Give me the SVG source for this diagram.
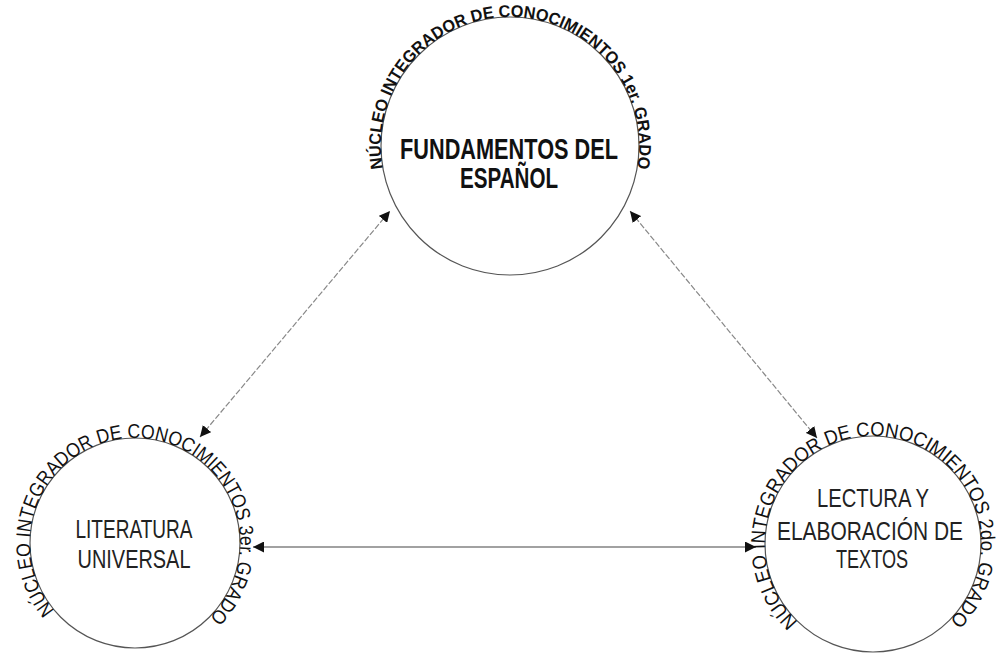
<svg xmlns="http://www.w3.org/2000/svg" width="1001" height="656" viewBox="0 0 1001 656">
<style>
.ring{fill:none;stroke:#555;stroke-width:1.2}
.arc{font-family:"Liberation Sans",Arial,sans-serif;fill:#111}
.arcTop{font-size:17px;font-weight:bold}
.arcBot{font-size:20px}
.lbl{font-family:"Liberation Sans",Arial,sans-serif;fill:#222;text-anchor:middle}
.lblTop{font-size:30px;font-weight:bold;fill:#111}
.lblBot{font-size:25px}
.diag{fill:none;stroke:#888;stroke-width:1.2;stroke-dasharray:6 2}
.horiz{fill:none;stroke:#444;stroke-width:1.2}
</style>
<defs>
<marker id="ah" viewBox="0 0 10 10" refX="10" refY="5" markerWidth="11" markerHeight="11" markerUnits="userSpaceOnUse" orient="auto-start-reverse">
<path d="M0,0 L10,5 L0,10 z" fill="#111"/>
</marker>
<path id="pTop" d="M382.96,168.4 A129,129 0 1 1 637.04,168.4"/>
<path id="pLeft" d="M54.57,610.49 A105,105 0 1 1 209.25,617.25"/>
<path id="pRight" d="M797.98,621.69 A108,108 0 1 1 949.37,620.37"/>
</defs>
<rect width="1001" height="656" fill="#fff"/>
<g id="connectors">
<path class="diag" d="M200,437 L390,211" marker-start="url(#ah)" marker-end="url(#ah)"/>
<path class="diag" d="M817,438 L630,211" marker-start="url(#ah)" marker-end="url(#ah)"/>
<path class="horiz" d="M253,547 L756,547" marker-start="url(#ah)" marker-end="url(#ah)"/>
</g>
<g id="node-fundamentos">
<circle class="ring" cx="510" cy="146" r="129"/>
<text class="arc arcTop"><textPath href="#pTop" textLength="450" lengthAdjust="spacingAndGlyphs">NÚCLEO INTEGRADOR DE CONOCIMIENTOS 1er. GRADO</textPath></text>
<text class="lbl lblTop" x="509" y="159" textLength="218" lengthAdjust="spacingAndGlyphs">FUNDAMENTOS DEL</text>
<text class="lbl lblTop" x="509" y="188" textLength="98" lengthAdjust="spacingAndGlyphs">ESPAÑOL</text>
</g>
<g id="node-literatura">
<circle class="ring" cx="135" cy="543" r="105"/>
<text class="arc arcBot"><textPath href="#pLeft" textLength="485" lengthAdjust="spacingAndGlyphs">NÚCLEO INTEGRADOR DE CONOCIMIENTOS 3er. GRADO</textPath></text>
<text class="lbl lblBot" x="134" y="538" textLength="117" lengthAdjust="spacingAndGlyphs">LITERATURA</text>
<text class="lbl lblBot" x="134" y="568" textLength="113" lengthAdjust="spacingAndGlyphs">UNIVERSAL</text>
</g>
<g id="node-lectura">
<circle class="ring" cx="873" cy="544" r="108"/>
<text class="arc arcBot"><textPath href="#pRight" textLength="510" lengthAdjust="spacingAndGlyphs">NÚCLEO INTEGRADOR DE CONOCIMIENTOS 2do. GRADO</textPath></text>
<text class="lbl lblBot" x="873" y="507" textLength="112" lengthAdjust="spacingAndGlyphs">LECTURA Y</text>
<text class="lbl lblBot" x="870" y="540" textLength="186" lengthAdjust="spacingAndGlyphs">ELABORACIÓN DE</text>
<text class="lbl lblBot" x="872" y="568" textLength="72" lengthAdjust="spacingAndGlyphs">TEXTOS</text>
</g>
</svg>
